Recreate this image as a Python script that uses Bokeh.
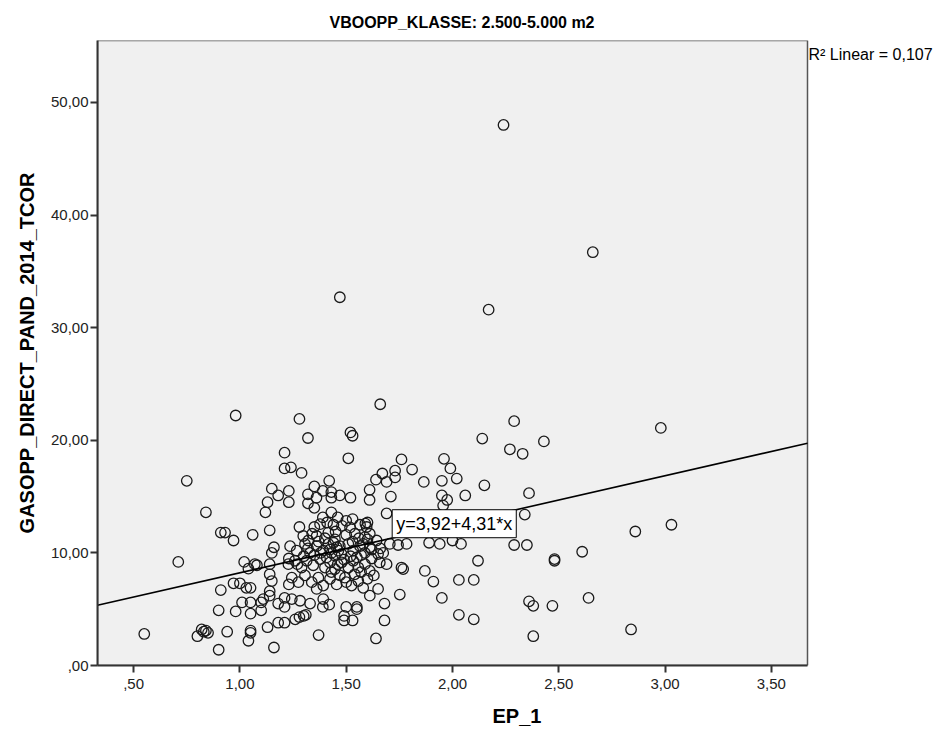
from bokeh.plotting import figure
from bokeh.models import Range1d, FixedTicker, Label, ColumnDataSource
from bokeh.embed import file_html
from bokeh.resources import INLINE

# ---- data ----
ep_1 = [
    0.98, 0.75, 0.84, 0.91, 0.93, 0.97, 1.06, 1.14, 0.71, 1.21, 1.21, 1.15, 1.18, 1.13, 1.12,
    1.23, 1.23, 1.16, 1.15, 1.02, 1.07, 1.08, 1.14, 1.04, 1.14, 1.15, 0.97, 1.00, 1.03, 1.05,
    0.91, 1.14, 1.14, 1.11, 1.10, 1.01, 1.05, 1.18, 1.21, 1.21, 0.90, 0.98, 1.05, 1.10, 1.18,
    1.21, 1.13, 0.55, 0.80, 0.82, 0.83, 0.85, 0.84, 0.94, 1.05, 1.05, 1.04, 0.90, 1.16, 1.23,
    1.23,
    1.26, 1.28, 1.30, 1.31, 1.33, 1.37, 1.39, 1.42, 1.49, 1.49, 1.50, 1.53, 1.55, 1.55, 1.64,
    1.68, 1.68, 2.03, 2.10, 1.95,
    2.36, 2.38, 2.47, 2.38, 2.84, 2.64,
    2.98, 2.86, 3.03,
    2.29, 2.14, 2.27, 2.33, 2.43, 1.96, 1.99, 2.02, 1.95, 1.865, 2.15, 2.06, 1.95, 1.975, 1.956,
    2.36, 2.34, 1.89, 1.94, 2.00, 2.04, 2.29, 2.35, 2.12, 2.48, 2.48, 2.61, 1.87, 1.91, 2.03,
    2.10,
    1.66, 1.28, 1.32, 1.52, 1.53, 1.51, 1.24, 1.29, 1.76, 1.81, 1.67, 1.73, 1.73, 1.64, 1.69,
    1.61, 1.61, 1.71, 1.42, 1.35, 1.32, 1.36, 1.32, 1.35, 1.39, 1.43, 1.47, 1.43, 1.52, 1.69,
    1.39, 1.43, 1.46, 1.50, 1.53, 1.59, 1.60, 1.35, 1.28,
    1.377, 1.361, 1.416, 1.447, 1.518, 1.541, 1.565, 1.596, 1.588, 1.611, 1.643, 1.705, 1.744,
    1.784, 1.76, 1.768, 1.752, 1.65, 1.611,
    1.236, 1.267, 1.306, 1.33, 1.361, 1.392, 1.416, 1.431, 1.455, 1.478, 1.51, 1.533, 1.565,
    1.588, 1.611, 1.65, 1.674,
    1.228, 1.259, 1.29, 1.314, 1.345, 1.377, 1.40, 1.424, 1.447, 1.478, 1.51, 1.533, 1.557,
    1.588, 1.611, 1.658, 1.69,
    1.244, 1.275, 1.306, 1.338, 1.369, 1.392, 1.424, 1.455, 1.494, 1.525, 1.557, 1.58, 1.361,
    1.244, 1.283, 1.392,
    1.424, 1.447, 1.463, 1.408, 1.44, 1.47, 1.298, 1.322,
    1.40, 1.45, 1.48, 1.50, 1.53, 1.56, 1.58, 1.60, 1.62, 1.55, 1.52, 1.49, 1.46, 1.43, 1.47,
    1.50, 1.54, 1.57, 1.60, 1.63, 1.38, 1.35, 1.32, 1.30, 1.27, 1.34, 1.37, 1.41, 1.44, 1.57,
    1.62, 1.66,
    2.24, 2.66, 2.17, 1.47,
]
gasopp_direct_pand_2014_tcor = [
    22.2, 16.4, 13.6, 11.8, 11.8, 11.1, 11.6, 12.0, 9.2, 18.9, 17.5, 15.7, 15.1, 14.5, 13.6,
    15.5, 14.5, 10.5, 10.0, 9.2, 9.0, 8.9, 9.0, 8.6, 8.1, 7.5, 7.3, 7.3, 6.9, 6.9,
    6.7, 6.6, 6.2, 5.9, 5.6, 5.6, 5.6, 5.5, 6.0, 5.2, 4.9, 4.8, 4.6, 4.9, 3.8,
    3.8, 3.4, 2.8, 2.6, 3.2, 3.0, 2.9, 3.1, 3.0, 3.1, 2.9, 2.2, 1.4, 1.6, 9.5,
    7.2,
    4.1, 4.3, 4.4, 4.5, 5.5, 2.7, 5.2, 5.4, 4.0, 4.4, 5.2, 4.0, 5.0, 5.2, 2.4,
    4.0, 5.5, 4.5, 4.1, 6.0,
    5.7, 5.3, 5.3, 2.6, 3.2, 6.0,
    21.1, 11.9, 12.5,
    21.7, 20.15, 19.2, 18.8, 19.9, 18.35, 17.5, 16.6, 16.4, 16.3, 16.0, 15.1, 15.1, 14.7, 14.2,
    15.3, 13.4, 10.9, 10.8, 11.1, 10.8, 10.7, 10.7, 9.3, 9.45, 9.3, 10.1, 8.4, 7.45, 7.6,
    7.6,
    23.2, 21.9, 20.2, 20.7, 20.4, 18.4, 17.6, 17.1, 18.3, 17.4, 17.05, 17.3, 16.7, 16.5, 16.3,
    15.6, 14.7, 15.0, 16.4, 15.9, 15.2, 14.9, 14.4, 14.0, 15.5, 15.4, 15.1, 14.9, 14.9, 13.5,
    13.15, 13.6, 13.15, 12.85, 13.0, 12.6, 12.7, 12.3, 12.3,
    12.55, 11.5, 11.8, 11.2, 12.26, 11.7, 12.5, 12.3, 11.4, 11.7, 11.1, 10.8, 10.7,
    10.8, 8.7, 8.56, 6.3, 6.8, 6.2,
    10.6, 10.2, 10.8, 10.0, 10.6, 10.2, 10.8, 10.0, 10.5, 9.9, 10.8, 10.2, 10.6,
    10.0, 10.5, 9.9, 10.0,
    9.0, 9.3, 8.7, 9.3, 8.9, 9.45, 8.7, 9.15, 8.56, 9.15, 8.7, 9.3, 8.7,
    9.0, 8.4, 9.15, 9.0,
    7.8, 7.4, 8.0, 7.4, 7.8, 7.1, 7.7, 7.2, 7.8, 7.1, 7.5, 6.9, 6.8,
    5.9, 5.75, 5.9,
    10.3, 9.75, 10.2, 9.6, 10.9, 10.6, 11.5, 11.1,
    11.3, 11.9, 12.4, 11.6, 11.0, 11.3, 10.8, 11.2, 10.3, 9.6, 9.7, 9.4, 9.0, 8.3, 8.0,
    7.4, 8.1, 8.3, 7.7, 8.0, 10.0, 9.8, 10.4, 9.7, 9.0, 11.7, 11.0, 12.7, 12.5, 9.8,
    9.5, 10.4,
    48.0, 36.7, 31.6, 32.7,
]

x_ticks = [0.5, 1, 1.5, 2, 2.5, 3, 3.5]
x_tick_labels = [",50", "1,00", "1,50", "2,00", "2,50", "3,00", "3,50"]
y_ticks = [0, 10, 20, 30, 40, 50]
y_tick_labels = [",00", "10,00", "20,00", "30,00", "40,00", "50,00"]

fit_intercept = 3.92
fit_slope = 4.31
fit_label = "y=3,92+4,31*x"
r2_label = "R\u00b2 Linear = 0,107"
title_text = "VBOOPP_KLASSE: 2.500-5.000 m2"
x_label = "EP_1"
y_label = "GASOPP_DIRECT_PAND_2014_TCOR"

# plotted data area
x_min, x_max = 0.33, 3.67
y_min, y_max = 0.0, 55.5

# layout (pixels)
W, H = 938, 732
LEFT, TOP, BOTTOM, RIGHT = 97, 40, 67, 2
PLOT_W = 710                      # width of the grey data area
FRAME_W = W - LEFT - RIGHT        # frame extends to the right edge for the R² note
x_frame_max = x_min + (x_max - x_min) * FRAME_W / PLOT_W

FONT = "Liberation Sans"

p = figure(width=W, height=H, output_backend="svg", toolbar_location=None,
           x_range=Range1d(x_min, x_frame_max), y_range=Range1d(y_min, y_max),
           min_border_left=LEFT, min_border_right=RIGHT, min_border_top=TOP,
           min_border_bottom=BOTTOM, title=title_text)

p.background_fill_color = "white"
p.border_fill_color = "white"
p.outline_line_color = None
p.grid.visible = False

p.title.align = "left"
p.title.offset = 232
p.title.standoff = 20
p.title.text_font = FONT
p.title.text_font_size = "16px"
p.title.text_font_style = "bold"
p.title.text_color = "black"

p.xaxis.ticker = FixedTicker(ticks=x_ticks)
p.yaxis.ticker = FixedTicker(ticks=y_ticks)
p.xaxis.major_label_overrides = dict(zip(x_ticks, x_tick_labels))
p.yaxis.major_label_overrides = dict(zip(y_ticks, y_tick_labels))
p.xaxis.bounds = (x_min, x_max)

for ax in (p.xaxis, p.yaxis):
    ax.axis_line_color = "#333333"
    ax.axis_line_width = 2
    ax.major_tick_line_color = "#333333"
    ax.major_tick_line_width = 2
    ax.major_tick_out = 7
    ax.major_tick_in = 0
    ax.minor_tick_line_color = None
    ax.major_label_text_font = FONT
    ax.major_label_text_font_size = "15px"
    ax.major_label_text_color = "#222222"
    ax.axis_label_text_font = FONT
    ax.axis_label_text_font_size = "20px"
    ax.axis_label_text_font_style = "bold"
    ax.axis_label_text_color = "black"

p.xaxis.axis_label = x_label
p.yaxis.axis_label = y_label
p.xaxis.major_label_standoff = 6
p.yaxis.major_label_standoff = 2
p.xaxis.axis_label_standoff = 13
p.yaxis.axis_label_standoff = 10

# grey data area with its frame
p.quad(left=[x_min], right=[x_max], bottom=[y_min], top=[y_max],
       fill_color="#F0F0F0", line_color="#555555", line_width=1.5)

src = ColumnDataSource(dict(x=ep_1, y=gasopp_direct_pand_2014_tcor))
p.scatter("x", "y", source=src, marker="circle", size=10.5, fill_color=None,
          line_color="#1a1a1a", line_width=1.3)

line_x = [x_min, x_max]
line_y = [fit_intercept + fit_slope * v for v in line_x]
p.line(line_x, line_y, line_color="black", line_width=1.6)

label_x = 2.30
p.add_layout(Label(x=label_x, y=fit_intercept + fit_slope * label_x, text=fit_label,
                   text_align="right", text_baseline="top", text_font=FONT,
                   text_font_size="18px", text_color="black",
                   background_fill_color="white", border_line_color="black",
                   border_line_width=1, padding=4))

p.add_layout(Label(x=x_max, y=54.3, text=r2_label, text_align="left",
                   text_baseline="middle", x_offset=1, text_font=FONT,
                   text_font_size="16px", text_color="black"))

open("out.html", "w").write(file_html(p, INLINE))
